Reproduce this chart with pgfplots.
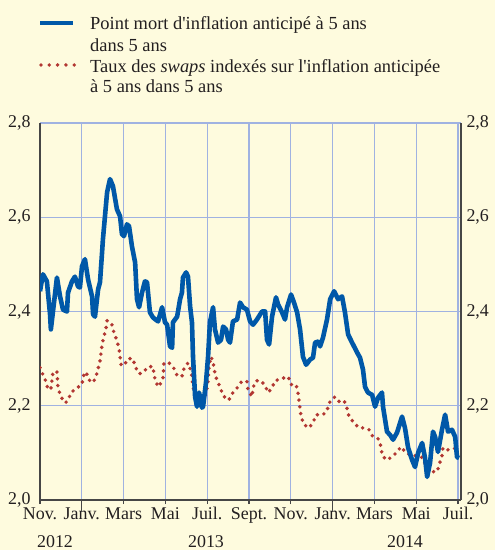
\documentclass[border=0pt]{standalone}
\usepackage{pgfplots}
\pgfplotsset{compat=1.18}
\usepackage{pgfplotstable}
\usepackage{fontspec}
\setmainfont{Liberation Serif}[Ligatures=TeXOff]
\definecolor{bg}{RGB}{254,251,222}
\definecolor{gridc}{RGB}{160,178,225}
\definecolor{bluel}{RGB}{0,88,168}
\definecolor{redd}{RGB}{178,55,50}
\definecolor{axc}{RGB}{70,70,70}
\definecolor{txt}{RGB}{35,31,32}

\pgfplotstableread{
m v
0 2.443
0.14 2.479
0.33 2.464
0.48 2.394
0.52 2.362
0.81 2.472
0.96 2.432
1.10 2.404
1.29 2.400
1.34 2.440
1.53 2.464
1.67 2.474
1.82 2.453
1.91 2.451
2.01 2.496
2.15 2.511
2.30 2.468
2.49 2.432
2.54 2.394
2.63 2.389
2.78 2.447
2.87 2.462
2.97 2.526
3.01 2.553
3.21 2.653
3.35 2.681
3.49 2.666
3.68 2.617
3.83 2.602
3.92 2.564
4.02 2.560
4.16 2.585
4.26 2.581
4.40 2.538
4.55 2.504
4.64 2.426
4.74 2.409
4.88 2.440
5.02 2.464
5.12 2.462
5.26 2.398
5.41 2.387
5.65 2.379
5.84 2.409
5.98 2.377
6.08 2.372
6.22 2.326
6.32 2.323
6.36 2.377
6.56 2.389
6.70 2.426
6.79 2.440
6.84 2.472
6.99 2.483
7.08 2.474
7.18 2.411
7.27 2.377
7.32 2.304
7.42 2.219
7.51 2.198
7.61 2.228
7.75 2.196
7.80 2.198
7.94 2.249
8.04 2.304
8.13 2.377
8.28 2.409
8.37 2.362
8.52 2.334
8.66 2.340
8.76 2.368
8.90 2.362
9.00 2.340
9.09 2.334
9.23 2.379
9.43 2.383
9.57 2.419
9.71 2.409
9.90 2.404
10.05 2.379
10.19 2.372
10.38 2.383
10.62 2.400
10.77 2.400
10.86 2.340
10.96 2.330
11.10 2.389
11.29 2.430
11.39 2.415
11.58 2.398
11.72 2.383
11.82 2.409
12.01 2.436
12.15 2.419
12.30 2.398
12.44 2.362
12.58 2.304
12.73 2.287
12.92 2.298
13.06 2.302
13.16 2.334
13.30 2.336
13.40 2.326
13.54 2.345
13.73 2.383
13.88 2.426
14.07 2.443
14.26 2.426
14.45 2.432
14.59 2.398
14.74 2.351
14.93 2.334
15.17 2.313
15.31 2.302
15.45 2.277
15.55 2.240
15.69 2.228
15.89 2.223
16.03 2.198
16.17 2.217
16.36 2.228
16.41 2.198
16.60 2.145
16.75 2.138
16.89 2.128
17.08 2.143
17.32 2.177
17.46 2.153
17.61 2.111
17.80 2.085
17.94 2.070
18.09 2.100
18.28 2.121
18.42 2.089
18.52 2.049
18.66 2.079
18.80 2.145
18.90 2.134
19.04 2.102
19.23 2.149
19.38 2.181
19.52 2.145
19.71 2.149
19.86 2.134
19.95 2.091
20.05 2.089
}\pointmort

\pgfplotstableread{
m v
0 2.281
0.14 2.266
0.29 2.251
0.38 2.234
0.53 2.238
0.62 2.272
0.81 2.272
0.86 2.238
1.00 2.219
1.20 2.206
1.34 2.211
1.48 2.228
1.77 2.238
2.01 2.245
2.06 2.262
2.20 2.272
2.34 2.255
2.54 2.249
2.68 2.262
2.78 2.279
2.87 2.294
2.97 2.330
3.06 2.347
3.16 2.364
3.21 2.381
3.44 2.372
3.54 2.355
3.68 2.338
3.78 2.321
3.83 2.304
3.88 2.287
4.02 2.285
4.21 2.300
4.45 2.300
4.55 2.283
4.74 2.268
4.93 2.270
5.17 2.283
5.41 2.283
5.45 2.266
5.55 2.249
5.69 2.240
5.89 2.260
5.93 2.291
6.17 2.291
6.41 2.279
6.56 2.264
6.79 2.262
6.89 2.279
7.08 2.291
7.22 2.274
7.27 2.260
7.32 2.240
7.42 2.223
7.56 2.215
7.75 2.219
7.89 2.219
7.99 2.238
8.04 2.253
8.09 2.287
8.18 2.304
8.28 2.294
8.33 2.277
8.42 2.260
8.56 2.245
8.71 2.228
8.90 2.213
9.04 2.213
9.23 2.228
9.43 2.238
9.67 2.253
9.90 2.251
9.95 2.234
10.14 2.219
10.19 2.238
10.33 2.253
10.57 2.253
10.77 2.243
10.91 2.228
11.10 2.238
11.24 2.253
11.53 2.257
11.87 2.262
12.01 2.245
12.25 2.245
12.34 2.228
12.39 2.211
12.44 2.194
12.49 2.177
12.63 2.160
12.87 2.153
13.06 2.164
13.21 2.181
13.54 2.181
13.73 2.189
13.83 2.206
14.11 2.219
14.31 2.209
14.55 2.211
14.69 2.194
14.78 2.177
15.02 2.164
15.26 2.153
15.55 2.153
15.74 2.149
15.93 2.134
16.17 2.130
16.32 2.113
16.36 2.096
16.56 2.085
16.84 2.091
17.08 2.102
17.27 2.113
17.51 2.100
17.80 2.094
18.09 2.094
18.33 2.089
18.47 2.070
18.71 2.060
19.00 2.060
19.09 2.074
19.23 2.094
19.28 2.111
19.47 2.106
19.81 2.109
20.10 2.113
}\swaps

\begin{document}
\begin{tikzpicture}
\useasboundingbox (0bp,0bp) rectangle (495bp,550bp);
\fill[bg] (0bp,0bp) rectangle (495bp,550bp);
% legend
\draw[bluel, line width=4.2bp] (40bp,527bp) -- (73bp,527bp);
\draw[redd, line width=3.8bp, line cap=round, dash pattern=on 0bp off 8.3bp] (41bp,485bp) -- (75bp,485bp);
\begin{scope}[every node/.style={anchor=base west, inner sep=0pt, text=txt, font=\fontsize{18.5}{21}\selectfont}]
\node at (90bp,520bp) {Point mort d'inflation anticipé à 5 ans};
\node at (90bp,498bp) {dans 5 ans};
\node at (90bp,477bp) {Taux des \textit{swaps} indexés sur l'inflation anticipée};
\node at (90bp,457bp) {à 5 ans dans 5 ans};
\end{scope}

\begin{axis}[
  at={(40bp,50bp)}, anchor=south west,
  width=421bp, height=377bp, scale only axis,
  xmin=0, xmax=20.14, ymin=2.0, ymax=2.8,
  axis x line*=bottom, axis y line*=left,
  axis line style={axc, line width=1.3bp},
  xtick={0,2,...,20},
  xticklabels={Nov.,Janv.,Mars,Mai,Juil.,Sept.,Nov.,Janv.,Mars,Mai,Juil.},
  ytick={2.0,2.2,2.4,2.6,2.8},
  yticklabels={{2,0},{2,2},{2,4},{2,6},{2,8}},
  grid=major, major grid style={gridc, line width=1.2bp},
  tick align=outside, major tick length=4bp,
  ytick style={draw=none},
  xtick style={axc, line width=1.2bp},
  tick label style={font=\fontsize{18}{18}\selectfont, text=txt},
  xticklabel style={yshift=0bp},
  yticklabel style={xshift=-2bp},
  extra x ticks={2,14}, extra x tick labels={},
  extra x tick style={grid=none, major tick length=12bp},
]
\addplot[redd, line width=3.9bp, line cap=round, dash pattern=on 0bp off 6.8bp] table[x=m,y=v] {\swaps};
\addplot[bluel, line width=4.6bp, line join=round] table[x=m,y=v] {\pointmort};
\end{axis}

\begin{axis}[
  at={(40bp,50bp)}, anchor=south west,
  width=421bp, height=377bp, scale only axis,
  xmin=0, xmax=20.14, ymin=2.0, ymax=2.8,
  axis y line*=right, axis x line=none,
  axis line style={axc, line width=1.3bp},
  ytick={2.0,2.2,2.4,2.6,2.8},
  yticklabels={{2,0},{2,2},{2,4},{2,6},{2,8}},
  ytick style={draw=none},
  tick label style={font=\fontsize{18}{18}\selectfont, text=txt},
  yticklabel style={xshift=2bp},
]
\addplot[draw=none] coordinates {(0,2.0)};
\end{axis}

\begin{scope}[every node/.style={anchor=base, inner sep=0pt, text=txt, font=\fontsize{18}{18}\selectfont}]
\node at (55bp,3bp) {2012};
\node at (206bp,3bp) {2013};
\node at (405bp,3bp) {2014};
\end{scope}
\end{tikzpicture}
\end{document}
